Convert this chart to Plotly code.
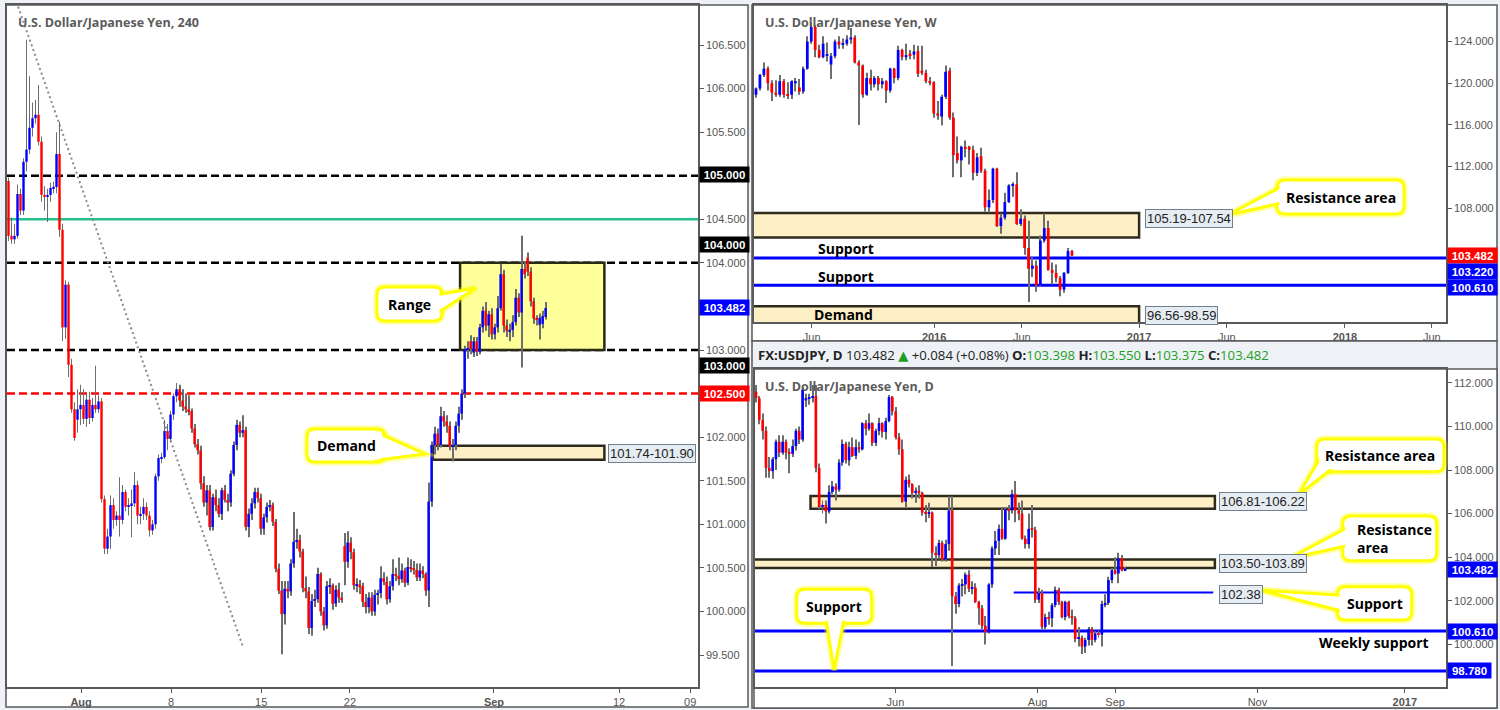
import plotly.graph_objects as go

W, H = 1500, 710
PAGE_BG = "#eef1f5"
BORDER = "#5a5a5a"
UP = "#0000ff"
DOWN = "#ff0000"
WICK = "#6e6e6e"
YEL = "#ffff00"
BOX_FILL = "#fdefc6"
BOX_LINE = "#2e2a1e"
TAG_FILL = "#e5ecf2"
TAG_LINE = "#70808f"
GREEN_TXT = "#1e9e1e"

# ---------------- 4H candles (USDJPY, 240) ----------------
h4_open = [104.94, 104.31, 104.27, 104.31, 104.79, 104.60, 105.16, 105.30, 105.55, 105.66,
           105.70, 105.39, 104.78, 104.76, 104.78, 104.86, 104.87, 105.25, 104.38, 103.26,
           103.75, 102.83, 102.32, 102.20, 102.32, 102.37, 102.21, 102.43, 102.22, 102.37,
           102.32, 102.41, 101.29, 100.72, 100.86, 101.22, 101.05, 101.10, 101.05, 101.37,
           101.20, 101.22, 101.24, 101.45, 101.10, 101.12, 101.20, 101.10, 100.93, 101.00,
           101.55, 101.76, 101.77, 102.07, 101.98, 102.26, 102.47, 102.55, 102.42, 102.35,
           102.32, 102.30, 102.10, 101.92, 101.85, 101.47, 101.25, 101.39, 100.97, 101.31,
           101.22, 101.12, 101.39, 101.28, 101.25, 101.58, 101.91, 102.14, 102.05, 102.08,
           100.97, 101.12, 101.24, 101.37, 101.30, 100.95, 101.08, 101.20, 101.22, 101.03,
           100.49, 100.24, 99.97, 100.26, 100.23, 100.55, 100.80, 100.82, 100.69, 100.27,
           100.23, 99.81, 100.12, 100.14, 100.43, 100.00, 99.84, 100.29, 100.30, 100.09,
           100.25, 100.16, 100.75, 100.57, 100.79, 100.68, 100.30, 100.31, 100.29, 100.11,
           100.05, 100.16, 100.00, 100.19, 100.21, 100.38, 100.34, 100.14, 100.29, 100.43,
           100.41, 100.37, 100.47, 100.33, 100.51, 100.49, 100.48, 100.39, 100.47, 100.43,
           100.24, 101.26, 101.91, 102.04, 101.91, 102.24, 102.18, 102.13, 101.89, 101.91,
           102.13, 102.27, 102.50, 103.01, 103.10, 102.97, 103.10, 102.98, 103.26, 103.45,
           103.28, 103.41, 103.18, 103.26, 103.48, 103.87, 103.28, 103.22, 103.23, 103.32,
           103.60, 103.43, 103.93, 104.06, 103.90, 103.56, 103.36, 103.29, 103.30, 103.38]
h4_high = [104.98, 104.52, 104.45, 104.90, 104.85, 105.20, 106.56, 106.14, 105.84, 105.87,
           106.04, 105.45, 104.88, 104.85, 104.92, 104.93, 105.50, 105.62, 104.45, 103.80,
           103.78, 102.90, 102.40, 102.55, 102.60, 102.55, 102.50, 102.52, 102.45, 102.82,
           102.48, 102.45, 101.33, 100.95, 101.33, 101.30, 101.15, 101.54, 101.45, 101.40,
           101.30, 101.40, 101.60, 101.50, 101.20, 101.30, 101.25, 101.15, 101.05, 101.58,
           101.80, 101.82, 102.20, 102.15, 102.30, 102.50, 102.62, 102.60, 102.55, 102.50,
           102.48, 102.33, 102.15, 101.98, 101.90, 101.55, 101.45, 101.45, 101.35, 101.40,
           101.30, 101.42, 101.45, 101.35, 101.62, 101.95, 102.20, 102.18, 102.25, 102.12,
           101.18, 101.30, 101.42, 101.42, 101.35, 101.12, 101.25, 101.28, 101.25, 101.06,
           100.55, 100.35, 100.35, 100.35, 100.60, 101.14, 100.95, 100.88, 100.72, 100.40,
           100.28, 100.20, 100.25, 100.50, 100.45, 100.05, 100.35, 100.38, 100.32, 100.30,
           100.33, 100.22, 100.90, 100.92, 100.85, 100.72, 100.38, 100.36, 100.33, 100.20,
           100.22, 100.22, 100.25, 100.25, 100.52, 100.45, 100.40, 100.35, 100.60, 100.50,
           100.62, 100.55, 100.50, 100.62, 100.60, 100.58, 100.55, 100.55, 100.52, 100.45,
           101.48, 101.95, 102.12, 102.10, 102.35, 102.30, 102.25, 102.18, 101.98, 102.18,
           102.35, 102.55, 103.05, 103.10, 103.17, 103.15, 103.15, 103.30, 103.50, 103.55,
           103.45, 103.48, 103.30, 103.62, 103.99, 103.92, 103.35, 103.30, 103.40, 103.70,
           103.65, 104.31, 104.02, 104.12, 103.95, 103.60, 103.40, 103.42, 103.45, 103.55]
h4_low = [104.25, 104.22, 104.22, 104.28, 104.55, 104.55, 105.05, 105.25, 105.45, 105.60,
          105.35, 104.70, 104.60, 104.47, 104.70, 104.80, 104.80, 104.30, 103.10, 103.13,
          102.69, 102.28, 101.96, 102.05, 102.14, 102.15, 102.12, 102.15, 102.18, 102.28,
          102.28, 101.25, 100.66, 100.66, 100.72, 100.95, 100.98, 100.86, 101.00, 101.15,
          101.10, 100.85, 101.20, 101.00, 101.00, 101.05, 101.05, 100.86, 100.88, 100.95,
          101.50, 101.70, 101.75, 101.85, 101.95, 102.20, 102.40, 102.35, 102.30, 102.28,
          102.25, 102.05, 101.88, 101.80, 101.40, 101.20, 101.10, 100.93, 100.93, 101.15,
          101.08, 101.05, 101.25, 101.15, 101.20, 101.55, 101.85, 102.00, 102.00, 100.93,
          100.85, 101.05, 101.18, 101.25, 100.88, 100.88, 101.02, 101.15, 100.98, 100.45,
          100.20, 99.51, 99.85, 100.15, 100.18, 100.50, 100.72, 100.62, 100.22, 100.15,
          99.74, 99.72, 100.05, 100.10, 99.95, 99.78, 99.80, 100.20, 100.02, 100.05,
          100.10, 100.10, 100.30, 100.50, 100.60, 100.25, 100.22, 100.20, 100.05, 99.98,
          99.98, 99.95, 99.95, 100.08, 100.15, 100.30, 100.08, 100.10, 100.24, 100.35,
          100.30, 100.33, 100.28, 100.30, 100.45, 100.42, 100.35, 100.35, 100.38, 100.18,
          100.05, 101.20, 101.80, 101.85, 101.88, 102.12, 102.05, 101.85, 101.72, 101.85,
          102.05, 102.20, 102.45, 102.90, 102.95, 102.92, 102.93, 102.95, 103.20, 103.22,
          103.15, 103.12, 103.12, 103.20, 103.45, 103.20, 103.15, 103.10, 103.15, 103.28,
          103.38, 102.80, 103.82, 103.85, 103.50, 103.30, 103.28, 103.12, 103.25, 103.35]
h4_close = [104.31, 104.27, 104.31, 104.79, 104.60, 105.16, 105.30, 105.55, 105.66, 105.70,
            105.39, 104.78, 104.76, 104.78, 104.86, 104.87, 105.25, 104.38, 103.26, 103.75,
            102.83, 102.32, 101.99, 102.32, 102.37, 102.21, 102.43, 102.22, 102.37, 102.32,
            102.41, 101.29, 100.72, 100.86, 101.22, 101.05, 101.10, 101.05, 101.37, 101.20,
            101.22, 101.24, 101.45, 101.10, 101.12, 101.20, 101.10, 100.93, 101.00, 101.55,
            101.76, 101.77, 102.07, 101.98, 102.26, 102.47, 102.55, 102.42, 102.35, 102.32,
            102.30, 102.10, 101.92, 101.85, 101.47, 101.25, 101.39, 100.97, 101.31, 101.22,
            101.12, 101.39, 101.28, 101.25, 101.58, 101.91, 102.14, 102.05, 102.08, 100.97,
            101.12, 101.24, 101.37, 101.30, 100.95, 101.08, 101.20, 101.22, 101.03, 100.49,
            100.24, 99.97, 100.26, 100.23, 100.55, 100.80, 100.82, 100.69, 100.27, 100.23,
            99.81, 100.12, 100.14, 100.43, 100.00, 99.84, 100.29, 100.30, 100.09, 100.25,
            100.16, 100.14, 100.57, 100.79, 100.68, 100.30, 100.31, 100.29, 100.11, 100.05,
            100.16, 100.00, 100.19, 100.21, 100.38, 100.34, 100.14, 100.29, 100.43, 100.41,
            100.37, 100.47, 100.33, 100.51, 100.49, 100.48, 100.39, 100.47, 100.43, 100.24,
            101.26, 101.91, 102.04, 101.91, 102.24, 102.18, 102.13, 101.89, 101.91, 102.13,
            102.27, 102.50, 103.01, 103.02, 103.01, 103.10, 102.98, 103.26, 103.45, 103.28,
            103.41, 103.18, 103.26, 103.48, 103.87, 103.28, 103.22, 103.23, 103.32, 103.60,
            103.43, 103.93, 103.87, 103.90, 103.56, 103.36, 103.35, 103.37, 103.39, 103.482]
h4_tick_vals = [24.2, 54.2, 84.2, 113.8, 161.8, 203.5, 227.2]
h4_tick_text = ["<b>Aug</b>", "8", "15", "22", "<b>Sep</b>", "12", "09"]
h4_y_ticks = [99.5, 100.0, 100.5, 101.0, 101.5, 102.0, 102.5, 103.0, 103.5, 104.0, 104.5, 105.0, 105.5, 106.0, 106.5]

# ---------------- Weekly candles ----------------
wk_open = [118.9, 119.5, 120.8, 121.4, 120.0, 119.1, 118.9, 120.2, 118.9, 118.9,
           120.0, 119.6, 119.2, 121.4, 124.0, 125.4, 123.2, 122.5, 122.7, 121.8,
           122.6, 124.0, 123.7, 123.8, 124.2, 124.4, 122.0, 121.7, 118.9, 120.5,
           119.9, 120.5, 119.9, 120.2, 119.3, 121.4, 120.5, 123.2, 122.5, 122.85,
           122.75, 123.1, 121.2, 121.0, 120.2, 120.1, 117.1, 116.8, 118.7, 121.2,
           116.7, 113.3, 112.6, 113.9, 113.9, 113.6, 111.4, 113.0, 111.6, 108.1,
           108.8, 111.8, 106.3, 107.1, 108.6, 110.2, 110.3, 106.5, 107.0, 104.2,
           102.2, 102.5, 100.6, 104.9, 106.1, 102.1, 101.8, 101.3, 100.2, 101.8, 103.9]
wk_high = [119.6, 120.9, 122.0, 121.6, 120.3, 120.3, 120.8, 120.4, 120.1, 120.3,
           120.5, 120.4, 121.6, 124.5, 125.86, 125.6, 123.7, 124.5, 123.9, 122.9,
           124.2, 124.5, 124.3, 124.6, 125.3, 124.6, 122.2, 121.8, 121.0, 121.3,
           120.7, 120.7, 120.5, 120.3, 121.5, 121.5, 123.6, 123.3, 123.8, 123.2,
           123.7, 123.6, 123.6, 121.3, 120.6, 120.2, 118.3, 118.9, 121.7, 121.5,
           117.2, 114.9, 114.0, 114.5, 114.0, 114.0, 113.3, 113.8, 111.8, 109.8,
           111.9, 111.9, 107.5, 109.5, 110.3, 110.5, 111.45, 107.9, 107.3, 106.8,
           103.3, 103.0, 105.4, 107.49, 106.8, 102.8, 102.6, 101.5, 101.9, 104.2, 103.99]
wk_low = [118.6, 119.3, 120.6, 119.3, 118.3, 118.7, 118.7, 118.6, 118.5, 118.5,
          119.2, 118.9, 119.0, 121.3, 123.8, 122.5, 122.4, 122.4, 122.1, 120.4,
          122.4, 123.3, 123.3, 123.6, 123.8, 121.9, 116.0, 118.6, 118.8, 119.3,
          119.6, 119.3, 119.5, 118.1, 119.1, 120.0, 120.3, 122.2, 122.2, 122.3,
          122.3, 120.6, 120.8, 120.0, 119.8, 116.7, 116.5, 115.97, 118.5, 116.5,
          110.98, 112.3, 110.99, 112.9, 112.2, 110.7, 111.1, 111.4, 107.7, 107.6,
          108.5, 106.2, 105.55, 106.9, 108.5, 109.1, 106.4, 106.3, 103.55, 99.0,
          101.4, 99.99, 100.5, 104.7, 102.0, 100.7, 100.9, 99.55, 99.9, 101.7, 103.37]
wk_close = [119.5, 120.8, 121.4, 120.0, 119.1, 118.9, 120.2, 118.9, 118.8, 120.2,
            120.2, 119.2, 121.4, 124.0, 125.4, 123.2, 122.5, 123.8, 122.8, 122.6,
            124.0, 123.7, 123.8, 124.2, 124.4, 122.0, 121.7, 118.9, 120.5, 119.9,
            120.5, 119.9, 120.2, 119.3, 121.4, 120.5, 123.2, 122.5, 122.7, 122.7,
            123.05, 120.9, 121.0, 120.2, 120.1, 117.1, 116.9, 118.7, 121.1, 116.7,
            113.1, 112.6, 113.9, 113.7, 113.6, 111.4, 112.9, 111.6, 108.1, 108.8,
            111.8, 106.3, 107.1, 108.6, 110.2, 110.3, 106.5, 107.0, 104.2, 102.2,
            102.5, 100.6, 104.9, 106.1, 102.1, 101.8, 101.3, 100.2, 101.8, 103.9, 103.48]
wk_tick_vals = [14.1, 45.1, 67.3, 97.0, 119.2, 149.1, 171.1]
wk_tick_text = ["Jun", "<b>2016</b>", "Jun", "<b>2017</b>", "Jun", "<b>2018</b>", "Jun"]
wk_y_ticks = [100, 104, 108, 112, 116, 120, 124]
wk_y_text = ["", "", "108.000", "112.000", "116.000", "120.000", "124.000"]

# ---------------- Daily candles ----------------
d1_open = [111.6, 111.3, 110.3, 109.8, 108.1, 107.95, 108.5, 109.3, 108.8, 109.3,
           108.8, 108.75, 109.1, 109.8, 109.4, 111.2, 111.3, 111.35, 111.4, 108.1,
           106.3, 106.4, 106.1, 107.0, 107.25, 107.1, 108.35, 109.2, 108.45, 109.05,
           108.65, 109.05, 108.95, 110.15, 109.9, 110.15, 109.25, 109.8, 110.15, 109.75,
           110.25, 111.35, 110.7, 109.5, 108.95, 106.55, 107.55, 107.35, 106.95, 107.05,
           106.95, 106.05, 106.0, 106.05, 104.2, 104.1, 104.65, 103.9, 104.6, 106.15,
           102.2, 101.85, 102.7, 102.75, 103.2, 102.55, 102.6, 101.95, 101.65, 100.85,
           100.55, 102.75, 104.4, 104.75, 105.3, 104.85, 106.2, 106.15, 106.9, 106.15,
           106.0, 104.85, 104.6, 105.3, 105.25, 102.05, 102.35, 100.8, 101.25, 101.2,
           101.8, 102.5, 101.95, 101.25, 101.95, 101.3, 101.2, 100.25, 100.3, 99.9,
           100.2, 100.7, 100.2, 100.5, 100.45, 101.85, 101.9, 102.95, 103.4, 103.25,
           103.95, 103.398]
d1_high = [111.9, 111.4, 110.6, 110.0, 108.6, 108.6, 109.4, 109.6, 109.6, 109.4,
           109.0, 109.4, 109.9, 110.0, 111.8, 111.5, 111.5, 111.9, 111.9, 108.3,
           106.6, 106.6, 107.3, 107.5, 107.4, 108.5, 109.4, 109.3, 109.3, 109.5,
           109.4, 109.3, 110.2, 110.3, 110.6, 110.2, 109.9, 110.4, 110.2, 110.4,
           111.45, 111.4, 110.9, 109.7, 109.4, 107.7, 107.8, 107.4, 107.2, 107.3,
           107.0, 106.4, 106.5, 106.1, 104.5, 104.8, 104.75, 104.8, 106.8, 106.8,
           102.4, 102.8, 103.0, 103.3, 103.4, 102.9, 102.8, 102.0, 101.8, 101.3,
           102.8, 104.5, 105.2, 105.5, 106.3, 106.3, 106.4, 107.1, 107.5, 106.5,
           106.6, 105.0, 106.0, 106.4, 105.4, 102.6, 102.5, 101.4, 101.5, 101.9,
           102.65, 102.6, 102.0, 102.0, 102.0, 101.6, 101.3, 100.8, 100.4, 100.3,
           100.8, 100.8, 100.6, 100.7, 102.0, 102.3, 103.1, 103.5, 104.0, 104.2,
           104.1, 103.55]
d1_low = [111.1, 110.1, 109.4, 107.65, 107.65, 107.6, 108.0, 108.6, 108.7, 108.5,
          107.85, 108.6, 108.9, 109.2, 109.3, 110.9, 111.0, 111.1, 107.9, 106.2,
          106.0, 105.55, 106.0, 106.9, 106.6, 107.0, 108.2, 108.3, 108.2, 108.6,
          108.5, 108.8, 108.9, 109.6, 109.8, 109.1, 109.1, 109.6, 109.5, 109.4,
          110.2, 110.5, 109.4, 108.7, 106.5, 106.3, 107.2, 106.7, 106.5, 106.7,
          105.9, 105.6, 105.8, 103.55, 103.6, 103.9, 103.8, 103.8, 104.3, 99.0,
          101.4, 101.7, 102.2, 102.3, 102.4, 102.3, 101.9, 100.9, 100.7, 99.99,
          100.5, 102.6, 104.1, 104.1, 104.8, 104.8, 105.7, 106.0, 105.6, 105.7,
          104.8, 104.4, 104.4, 104.9, 101.9, 101.9, 100.7, 100.7, 100.9, 100.8,
          101.7, 101.8, 101.2, 101.1, 101.2, 100.9, 100.1, 99.9, 99.55, 99.6,
          99.95, 99.95, 100.1, 100.3, 99.9, 101.7, 101.8, 102.8, 103.2, 102.8,
          103.35, 103.375]
d1_close = [111.3, 110.3, 109.8, 108.1, 107.95, 108.5, 109.3, 108.8, 109.3, 108.8,
            108.75, 109.1, 109.8, 109.4, 111.7, 111.3, 111.35, 111.4, 108.1, 106.3,
            106.4, 106.1, 107.0, 107.25, 107.1, 108.35, 109.2, 108.45, 109.05, 108.65,
            109.05, 108.95, 110.15, 109.9, 110.15, 109.25, 109.8, 110.15, 109.75, 110.25,
            111.35, 110.7, 109.5, 108.95, 106.55, 107.55, 107.35, 106.95, 107.05, 106.95,
            106.05, 106.0, 106.05, 104.2, 104.1, 104.65, 103.9, 104.6, 106.15, 102.2,
            101.85, 102.7, 102.75, 103.2, 102.55, 102.6, 101.95, 101.65, 100.85, 100.55,
            102.75, 104.4, 104.75, 105.3, 104.85, 106.2, 106.15, 106.9, 106.15, 106.0,
            104.85, 104.6, 105.3, 105.25, 102.05, 102.35, 100.8, 101.25, 101.2, 101.8,
            102.5, 101.95, 101.25, 101.95, 101.3, 101.2, 100.25, 100.3, 99.9, 100.2,
            100.7, 100.2, 100.5, 100.45, 101.85, 101.9, 102.95, 103.4, 103.25, 103.95,
            103.40, 103.482]
d1_tick_vals = [41.95, 84.7, 108.0, 150.8, 195.1]
d1_tick_text = ["Jun", "Aug", "Sep", "Nov", "<b>2017</b>"]
d1_y_ticks = [100, 102, 104, 106, 108, 110, 112]

# ---------------- Levels / zones ----------------
h4_black_levels = [105.0, 104.0, 103.0]
h4_red_level = 102.5
h4_green_level = 104.5
h4_range_zone = (104.0, 103.0)
h4_demand_zone = (101.74, 101.90)
wk_support_levels = [103.22, 100.61]
wk_resistance_zone = (105.19, 107.54)
wk_demand_zone = (96.56, 98.59)
d1_support_levels = [100.61, 98.78]
d1_minor_support = 102.38
d1_resistance_zones = [(106.22, 106.81), (103.50, 103.89)]


def X(px):
    return px / W


def Y(py):
    return 1 - py / H


def P(px, py):
    return f"{X(px):.5f},{Y(py):.5f}"


fig = go.Figure()


def add_candles(o, h, l, c, xa, ya, body_w, wick_w, min_body):
    xs = list(range(len(o)))
    fig.add_trace(go.Bar(x=xs, y=[hi - lo for hi, lo in zip(h, l)], base=l, width=wick_w,
                         marker=dict(color=WICK, line=dict(width=0)), xaxis=xa, yaxis=ya,
                         hoverinfo="skip", showlegend=False))
    heights, bases, colors = [], [], []
    for oo, cc in zip(o, c):
        lo, hi = min(oo, cc), max(oo, cc)
        hgt = hi - lo
        if hgt < min_body:
            lo -= (min_body - hgt) / 2
            hgt = min_body
        heights.append(hgt)
        bases.append(lo)
        colors.append(UP if cc >= oo else DOWN)
    fig.add_trace(go.Bar(x=xs, y=heights, base=bases, width=body_w,
                         marker=dict(color=colors, line=dict(width=0)), xaxis=xa, yaxis=ya,
                         hoverinfo="skip", showlegend=False))


add_candles(h4_open, h4_high, h4_low, h4_close, "x", "y", 0.8, 0.32, 0.015)
add_candles(wk_open, wk_high, wk_low, wk_close, "x2", "y2", 0.7, 0.26, 0.1)
add_candles(d1_open, d1_high, d1_low, d1_close, "x3", "y3", 0.8, 0.3, 0.05)

shapes = []
annotations = []


def rect_px(x0, y0, x1, y1, fill, line_color, lw, layer="below"):
    shapes.append(dict(type="rect", xref="paper", yref="paper", x0=X(x0), x1=X(x1), y0=Y(y1), y1=Y(y0),
                       fillcolor=fill, line=dict(color=line_color, width=lw), layer=layer))


# panels
rect_px(6, 5, 748, 707, "white", BORDER, 1.5)
rect_px(752, 5, 1497, 341, "white", BORDER, 1.5)
rect_px(752, 341, 1497, 708, PAGE_BG, BORDER, 1.5)
rect_px(754, 369, 1497, 708, "white", BORDER, 1.5)


def hline(xa, ya, yv, color, width, dash="solid", x0=None, x1=None):
    if x0 is None:
        shapes.append(dict(type="line", xref=xa + " domain", yref=ya, x0=0, x1=1, y0=yv, y1=yv,
                           line=dict(color=color, width=width, dash=dash), layer="below"))
    else:
        shapes.append(dict(type="line", xref=xa, yref=ya, x0=x0, x1=x1, y0=yv, y1=yv,
                           line=dict(color=color, width=width, dash=dash), layer="below"))


def zone(xa, ya, x0, x1, y0, y1, fill, line_color=BOX_LINE, lw=2.5):
    shapes.append(dict(type="rect", xref=xa, yref=ya, x0=x0, x1=x1, y0=y0, y1=y1,
                       fillcolor=fill, line=dict(color=line_color, width=lw), layer="below"))


# 4H drawings
zone("x", "y", 150.5, 198.6, h4_range_zone[1], h4_range_zone[0], "#ffff99", "#2a2a14", 2.5)
zone("x", "y", 141.4, 198.6, h4_demand_zone[0], h4_demand_zone[1], BOX_FILL)
for lv in h4_black_levels:
    hline("x", "y", lv, "#000000", 2.5, "8px,4px")
hline("x", "y", h4_red_level, "#ff0000", 2.5, "8px,4px")
hline("x", "y", h4_green_level, "#26c08a", 2.5)
shapes.append(dict(type="line", xref="x", yref="y", x0=3.2, y0=106.94, x1=78.2, y1=99.59,
                   line=dict(color="#8a8a8a", width=2, dash="2px,3px"), layer="below"))

# Weekly drawings
zone("x2", "y2", -5, 97.0, wk_resistance_zone[0], wk_resistance_zone[1], BOX_FILL)
zone("x2", "y2", -5, 97.0, wk_demand_zone[0], wk_demand_zone[1], BOX_FILL)
for lv in wk_support_levels:
    hline("x2", "y2", lv, UP, 3)

# Daily drawings
zone("x3", "y3", 16.4, 138.0, d1_resistance_zones[0][0], d1_resistance_zones[0][1], BOX_FILL)
zone("x3", "y3", -5, 138.0, d1_resistance_zones[1][0], d1_resistance_zones[1][1], BOX_FILL)
for lv in d1_support_levels:
    hline("x3", "y3", lv, UP, 3)
hline("x3", "y3", d1_minor_support, UP, 2, x0=77.5, x1=137.5)


def text_px(x, y, text, size=14, color="#000000", family="Open Sans, DejaVu Sans", xanchor="center", align="center"):
    annotations.append(dict(xref="paper", yref="paper", x=X(x), y=Y(y), text=text, showarrow=False,
                            xanchor=xanchor, yanchor="middle", align=align,
                            font=dict(family=family, size=size, color=color)))


def price_tag(x_left, y_center, text, bg, width=48):
    annotations.append(dict(xref="paper", yref="paper", x=X(x_left), y=Y(y_center), xanchor="left",
                            yanchor="middle", text="<b>" + text + "</b>", showarrow=False, bgcolor=bg,
                            font=dict(family="Liberation Sans, Arial", size=11.5, color="white"),
                            width=width, height=14, borderpad=0.5, align="center"))


def range_tag(x_left, y_center, text):
    annotations.append(dict(xref="paper", yref="paper", x=X(x_left), y=Y(y_center), xanchor="left",
                            yanchor="middle", text=text, showarrow=False, bgcolor=TAG_FILL,
                            bordercolor=TAG_LINE, borderwidth=1, borderpad=1,
                            font=dict(family="Liberation Sans Narrow, Liberation Sans", size=13, color="#222222")))


def rr_path(x0, y0, x1, y1, r):
    return (f"M{P(x0 + r, y0)} L{P(x1 - r, y0)} Q{P(x1, y0)} {P(x1, y0 + r)} "
            f"L{P(x1, y1 - r)} Q{P(x1, y1)} {P(x1 - r, y1)} L{P(x0 + r, y1)} "
            f"Q{P(x0, y1)} {P(x0, y1 - r)} L{P(x0, y0 + r)} Q{P(x0, y0)} {P(x0 + r, y0)} Z")


def ext(apex, cross, d=9.0):
    dx, dy = cross[0] - apex[0], cross[1] - apex[1]
    n = (dx * dx + dy * dy) ** 0.5
    return (cross[0] + dx / n * d, cross[1] + dy / n * d)


def callout(box, c1, c2, apex, text, tx, ty, xanchor="center", align="center"):
    x0, y0, x1, y1 = box
    b1, b2 = ext(apex, c1), ext(apex, c2)
    tri = f"M{P(*apex)} L{P(*b1)} L{P(*b2)} Z"
    glow = dict(color="rgba(255,255,0,0.35)", width=7)
    shapes.append(dict(type="path", xref="paper", yref="paper", path=rr_path(x0, y0, x1, y1, 8),
                       line=glow, layer="above"))
    shapes.append(dict(type="path", xref="paper", yref="paper", path=tri, line=glow, layer="above"))
    shapes.append(dict(type="path", xref="paper", yref="paper", path=rr_path(x0, y0, x1, y1, 8),
                       fillcolor="white", line=dict(color=YEL, width=3), layer="above"))
    shapes.append(dict(type="path", xref="paper", yref="paper", path=tri,
                       fillcolor="white", line=dict(color=YEL, width=3), layer="above"))
    ins = 2.5
    shapes.append(dict(type="path", xref="paper", yref="paper",
                       path=rr_path(x0 + ins, y0 + ins, x1 - ins, y1 - ins, 8 - ins),
                       fillcolor="white", line=dict(width=0), layer="above"))
    text_px(tx, ty, text, 14, "#000000", xanchor=xanchor, align=align)


# ---- 4H texts ----
text_px(15.7, 22.8, "<b>U.S. Dollar/Japanese Yen, 240</b>", 12.5, "#5b5b5b", xanchor="left")
callout((377, 287, 442, 321), (442, 294), (442, 310), (476, 288), "<b>Range</b>", 409.5, 304)
callout((307, 429, 385, 462), (385, 436), (385, 459), (425, 454), "<b>Demand</b>", 346, 445.5)
range_tag(608.3, 453.3, "101.74-101.90")
price_tag(699, 174.7, "105.000", "#000000")
price_tag(699, 244, "104.000", "#000000")
price_tag(699, 307.7, "103.482", "#0000ff")
price_tag(699, 365, "103.000", "#000000")
price_tag(699, 393.7, "102.500", "#ff0000")

# ---- Weekly texts ----
text_px(763.3, 22.8, "<b>U.S. Dollar/Japanese Yen, W</b>", 12.5, "#5b5b5b", xanchor="left")
text_px(845.5, 249, "<b>Support</b>", 14)
text_px(845.5, 276.7, "<b>Support</b>", 14)
text_px(843.3, 314, "<b>Demand</b>", 14)
range_tag(1145, 218.8, "105.19-107.54")
range_tag(1145, 315, "96.56-98.59")
callout((1277, 180, 1404, 214), (1277, 189), (1277, 204), (1228, 215), "<b>Resistance area</b>", 1340.5, 197)
price_tag(1447, 256, "103.482", "#ff0000")
price_tag(1447, 271.7, "103.220", "#0000ff")
price_tag(1447, 287.3, "100.610", "#0000ff")

# ---- Daily texts ----
hdr = ("<b>FX:USDJPY, D</b> 103.482 <span style='color:%s'>▲</span> +0.084 (+0.08%%) "
       "<b>O:</b><span style='color:%s'>103.398</span> <b>H:</b><span style='color:%s'>103.550</span> "
       "<b>L:</b><span style='color:%s'>103.375</span> <b>C:</b><span style='color:%s'>103.482</span>"
       % ((GREEN_TXT,) * 5))
text_px(755.5, 355, hdr, 13.2, "#222222", xanchor="left")
text_px(763.3, 386.7, "<b>U.S. Dollar/Japanese Yen, D</b>", 12.5, "#5b5b5b", xanchor="left")
range_tag(1219.3, 501.5, "106.81-106.22")
range_tag(1219.3, 563.5, "103.50-103.89")
range_tag(1219.3, 594.3, "102.38")
callout((1316.7, 439, 1444, 471.7), (1316.7, 464), (1328, 471.7), (1298.3, 495),
        "<b>Resistance area</b>", 1380.3, 455.3)
callout((1342.7, 516, 1436.7, 560.7), (1342.7, 530), (1342.7, 546.7), (1290, 558.3),
        "<b>Resistance<br>area</b>", 1355, 538, xanchor="left", align="left")
callout((1337.3, 586.7, 1411.7, 620), (1337.3, 595), (1337.3, 610), (1260, 590),
        "<b>Support</b>", 1374.5, 603.3)
callout((796.7, 589.3, 871.7, 623.3), (826.7, 623.3), (843.3, 623.3), (834, 670),
        "<b>Support</b>", 834, 606.3)
text_px(1373.8, 642.7, "<b>Weekly support</b>", 14)
price_tag(1447, 569, "103.482", "#0000ff")
price_tag(1447, 631, "100.610", "#0000ff")
price_tag(1447, 670, "98.780", "#0000ff", width=42)

axis_common = dict(showgrid=False, zeroline=False, showline=True, linecolor=BORDER, linewidth=1.5,
                   mirror=True, ticks="outside", ticklen=4, tickcolor=BORDER,
                   tickfont=dict(family="Liberation Sans, Arial", size=11, color="#555555"),
                   fixedrange=True)

fig.update_layout(
    width=W, height=H, margin=dict(l=0, r=0, t=0, b=0),
    paper_bgcolor=PAGE_BG, plot_bgcolor="white", barmode="overlay", showlegend=False,
    xaxis=dict(domain=[X(7), X(698)], range=[-0.5, 229.8], anchor="y",
               tickvals=h4_tick_vals, ticktext=h4_tick_text, **axis_common),
    yaxis=dict(domain=[Y(687), Y(5)], range=[99.133, 106.959], anchor="x", side="right",
               tickvals=h4_y_ticks, tickformat=".3f", **axis_common),
    xaxis2=dict(domain=[X(754), X(1446)], range=[-0.5, 174.7], anchor="y2",
                tickvals=wk_tick_vals, ticktext=wk_tick_text, **axis_common),
    yaxis2=dict(domain=[Y(322), Y(5)], range=[97.09, 127.51], anchor="x2", side="right",
                tickvals=wk_y_ticks, ticktext=wk_y_text, **axis_common),
    xaxis3=dict(domain=[X(755), X(1446)], range=[-0.3, 207.5], anchor="y3",
                tickvals=d1_tick_vals, ticktext=d1_tick_text, **axis_common),
    yaxis3=dict(domain=[Y(687), Y(369)], range=[98.04, 112.64], anchor="x3", side="right",
                tickvals=d1_y_ticks, tickformat=".3f", **axis_common),
    shapes=shapes, annotations=annotations,
)

fig.write_html("out.html", config={"displayModeBar": False},
               post_script="document.body.style.margin='0px';document.body.style.overflow='hidden';")
